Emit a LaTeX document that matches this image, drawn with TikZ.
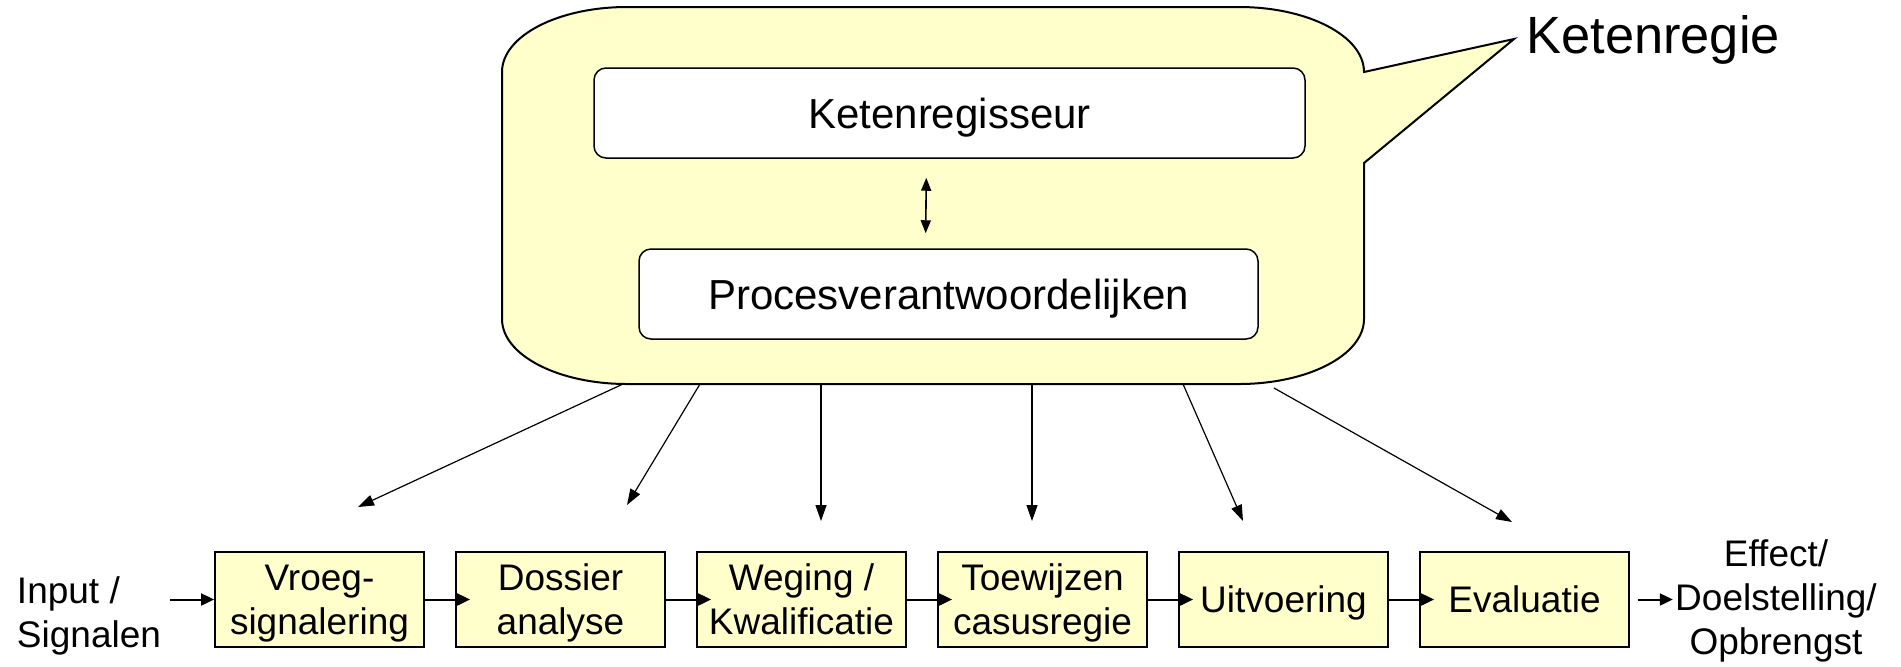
\documentclass[tikz,border=0pt]{standalone}
\usepackage{fontspec}
\setmainfont{Liberation Sans}
\usetikzlibrary{arrows.meta}
\definecolor{paleyellow}{HTML}{FFFFCC}

\begin{document}
\begin{tikzpicture}[x=0.5pt,y=-0.5pt,
    stage/.style={draw,line width=0.9pt,fill=paleyellow,minimum width=104.5pt,minimum height=47.5pt,inner sep=1pt,text depth=0pt,align=center,font=\fontsize{18.5}{22}\selectfont},
    role/.style={draw,line width=0.75pt,fill=white,rounded corners=6pt,minimum height=45pt,text depth=0pt,font=\fontsize{21}{25}\selectfont},
    flow/.style={-{Triangle[length=6.5pt,width=6pt]},line width=1pt},
    steer/.style={-{Triangle[length=8pt,width=5.5pt]},line width=0.6pt}]
\useasboundingbox (0,0) rectangle (1901,666);

% Callout
\draw[line width=1pt,fill=paleyellow] (502,72)
    .. controls (502,36) and (558,7) .. (627,7) -- (1239,7)
    .. controls (1308,7) and (1364,36) .. (1364,72)
    -- (1514,39) -- (1364,163) -- (1364,319)
    .. controls (1364,355) and (1308,384) .. (1239,384) -- (627,384)
    .. controls (558,384) and (502,355) .. (502,319) -- cycle;
\node[anchor=base west,inner sep=0,font=\fontsize{26.2}{30}\selectfont] (title) at (1526,53) {Ketenregie};

% Roles
\node[role,minimum width=355.5pt] (reg) at (949.5,113) {Ketenregisseur};
\node[role,minimum width=309.5pt] (proc) at (948.5,294) {Procesverantwoordelijken};
\draw[{Triangle[length=6.5pt,width=5pt]}-{Triangle[length=6.5pt,width=5pt]},line width=0.8pt,shorten <=9.5pt,shorten >=7.5pt]
    ([xshift=-11.5pt]reg.south) -- ([xshift=-11.5pt]proc.north);

% Chain
\node[align=left,inner sep=0,font=\fontsize{18.5}{22}\selectfont] (in) at (89,616) {Input /\\Signalen};
\foreach \i/\x/\txt in {1/319.5/{Vroeg-\\signalering},2/560.5/{Dossier\\analyse},3/801.5/{Weging /\\Kwalificatie},
                        4/1042.5/{Toewijzen\\casusregie},5/1283.5/{Uitvoering},6/1524.5/{Evaluatie}} {
    \node[stage] (b\i) at (\x,599.5) {\txt};
}
\node[align=center,inner sep=1pt,font=\fontsize{18.5}{22}\selectfont] (eff) at (1776,601) {Effect/\\Doelstelling/\\Opbrengst};

\draw[flow,shorten <=4.5pt] (in.east |- b1.west) -- (b1.west);
\foreach \i/\j in {1/2,2/3,3/4,4/5,5/6} {
    \draw[flow,shorten >=-7.5pt] (b\i.east) -- (b\j.west);
}
\draw[flow,shorten <=4pt] (b6.east) -- (eff.west |- b6.east);

% Steering arrows
\foreach \i/\sx/\sy/\tx/\ty in {1/623/384/358/507,2/700/384/627/505,3/821/384/821/521,
                                4/1032/384/1032/521,5/1183/384/1243/521,6/1274/388/1512/522} {
    \coordinate (s\i) at (\sx,\sy);
    \coordinate (t\i) at (\tx,\ty);
    \draw[steer] (s\i) -- (t\i);
}
\end{tikzpicture}
\end{document}
